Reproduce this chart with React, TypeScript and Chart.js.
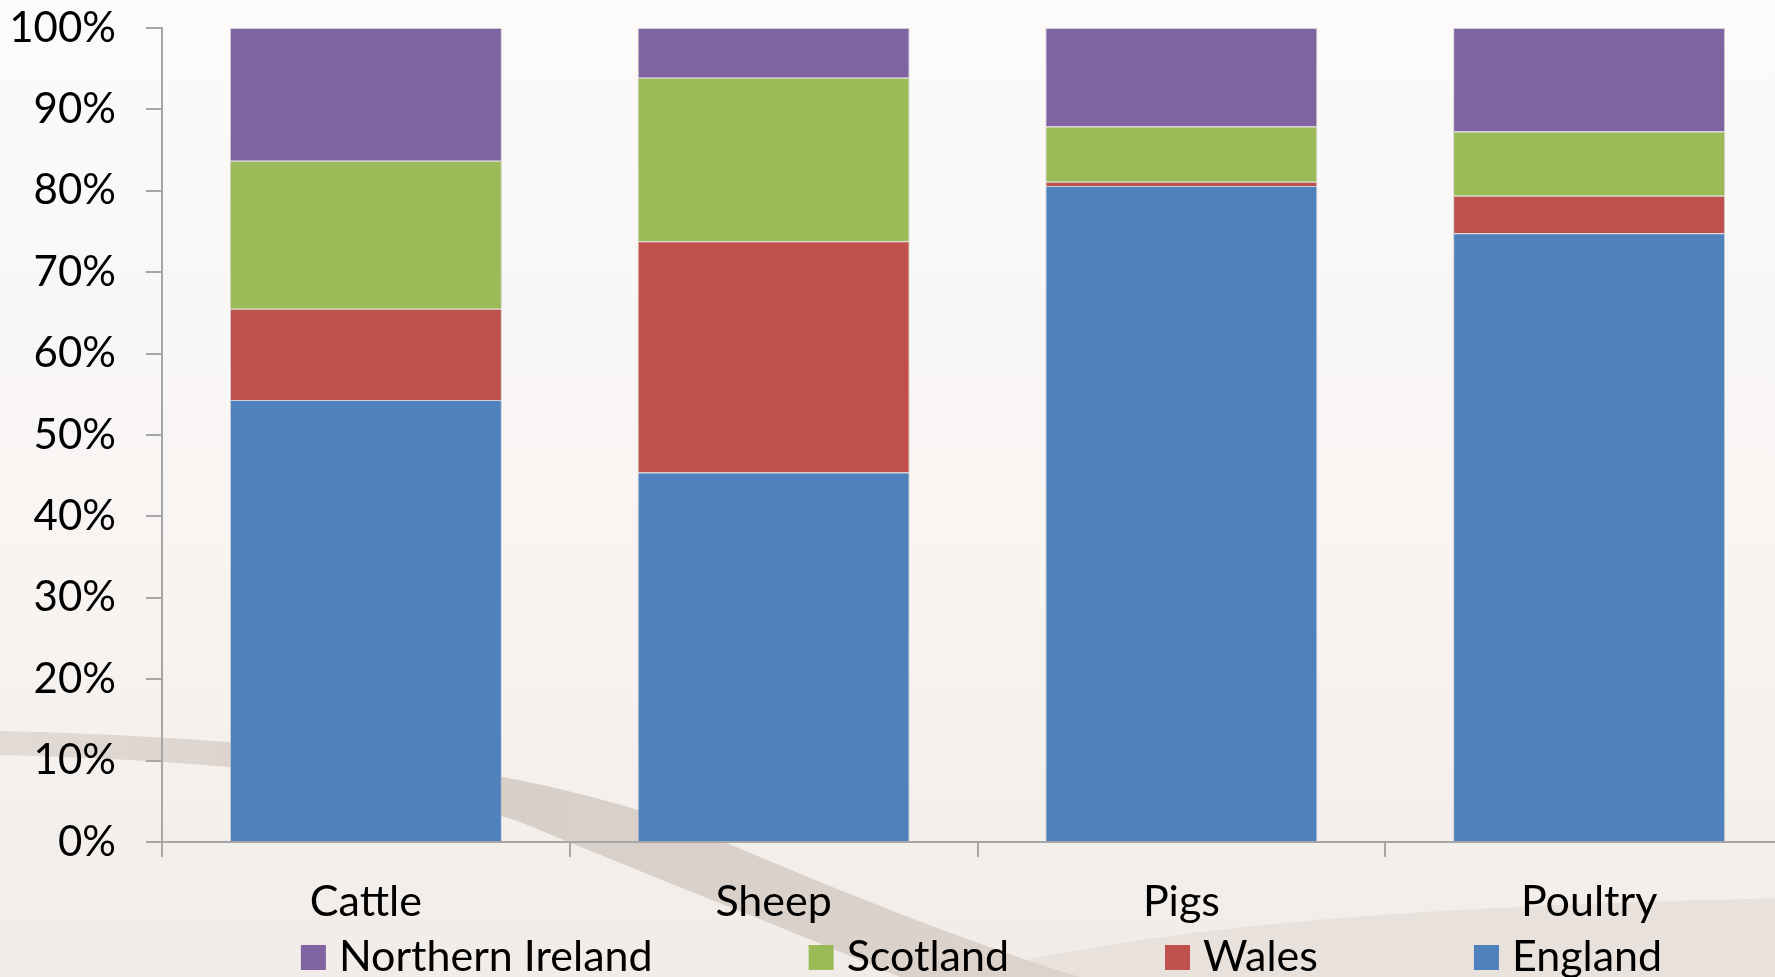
import React, { useEffect, useRef } from "react";
import { Chart, registerables } from "chart.js";

Chart.register(...registerables);

const categories = ["Cattle", "Sheep", "Pigs", "Poultry"];
const seriesNames = ["England", "Wales", "Scotland", "Northern Ireland"];
const england = [54.3, 45.4, 80.6, 74.8];
const wales = [11.2, 28.4, 0.5, 4.6];
const scotland = [18.2, 20.1, 6.8, 7.9];
const northernIreland = [16.3, 6.1, 12.1, 12.7];
const seriesColors = ["#4F81BD", "#C0504D", "#9BBB59", "#8064A2"];
const yTickLabels = ["0%", "10%", "20%", "30%", "40%", "50%", "60%", "70%", "80%", "90%", "100%"];

const FONT = "Lato, 'Open Sans', sans-serif";
const X_FONT_SIZE = 43;
const Y_FONT_SIZE = 42;
const LEGEND_FONT_SIZE = 43;

const backgroundPlugin = {
  id: "slideBackground",
  beforeDraw(chart: any) {
    const { ctx, width, height } = chart;
    ctx.save();
    const g = ctx.createLinearGradient(0, 0, 0, height);
    g.addColorStop(0, "#fcfbfa");
    g.addColorStop(0.6, "#f7f4f2");
    g.addColorStop(1, "#f1ece8");
    ctx.fillStyle = g;
    ctx.fillRect(0, 0, width, height);

    // pale beige region bottom right
    ctx.fillStyle = "#e9e2dc";
    ctx.beginPath();
    ctx.moveTo(960, height);
    ctx.bezierCurveTo(1120, 930, 1400, 905, width, 898);
    ctx.lineTo(width, height);
    ctx.closePath();
    ctx.fill();

    // taupe swoosh band
    const bg = ctx.createLinearGradient(0, 0, 1100, 0);
    bg.addColorStop(0, "#e2dad4");
    bg.addColorStop(0.4, "#d8cfc8");
    bg.addColorStop(1, "#dcd3cc");
    ctx.fillStyle = bg;
    ctx.beginPath();
    ctx.moveTo(0, 731);
    ctx.bezierCurveTo(300, 738, 560, 770, 720, 840);
    ctx.bezierCurveTo(860, 900, 990, 950, 1080, height);
    ctx.lineTo(900, height);
    ctx.bezierCurveTo(790, 930, 660, 880, 520, 822);
    ctx.bezierCurveTo(380, 775, 200, 760, 0, 755);
    ctx.closePath();
    ctx.fill();
    ctx.restore();
  },
};

const legendPlugin = {
  id: "bottomLegend",
  afterDraw(chart: any) {
    const { ctx, chartArea } = chart;
    const items = chart.data.datasets
      .map((d: any) => ({ label: d.label as string, color: d.backgroundColor as string }))
      .reverse();
    ctx.save();
    ctx.font = `${LEGEND_FONT_SIZE}px ${FONT}`;
    const box = 25;
    const gap = 13;
    const spacing = 156;
    const widths = items.map((it: any) => box + gap + ctx.measureText(it.label).width);
    const total = widths.reduce((a: number, b: number) => a + b, 0) + spacing * (items.length - 1);
    const center = (chartArea.left + chartArea.right) / 2 + 4;
    let x = center - total / 2;
    const baseline = 971;
    items.forEach((it: any, i: number) => {
      ctx.fillStyle = it.color;
      ctx.fillRect(x, baseline - box - 1, box, box);
      ctx.fillStyle = "#000000";
      ctx.textAlign = "left";
      ctx.textBaseline = "alphabetic";
      ctx.fillText(it.label, x + box + gap, baseline);
      x += widths[i] + spacing;
    });
    ctx.restore();
  },
};

export default function App() {
  const canvasRef = useRef<HTMLCanvasElement | null>(null);

  useEffect(() => {
    if (!canvasRef.current) return;
    const seriesValues = [england, wales, scotland, northernIreland];
    const chart = new Chart(canvasRef.current, {
      type: "bar",
      data: {
        labels: categories,
        datasets: seriesNames.map((name, i) => ({
          label: name,
          data: seriesValues[i],
          backgroundColor: seriesColors[i],
          borderColor: "rgba(190,190,190,0.7)",
          borderWidth: 1,
          categoryPercentage: 1,
          barPercentage: 0.667,
        })),
      },
      options: {
        animation: false,
        responsive: true,
        maintainAspectRatio: false,
        layout: { padding: { top: 28, right: 7, left: 0, bottom: 0 }, autoPadding: false },
        plugins: {
          legend: { display: false },
          tooltip: { enabled: false },
        },
        scales: {
          x: {
            stacked: true,
            grid: {
              display: true,
              drawOnChartArea: false,
              drawTicks: true,
              tickLength: 15,
              color: "#a6a6a6",
              lineWidth: 2,
              offset: true,
            },
            border: { display: true, color: "#a6a6a6", width: 2 },
            ticks: {
              color: "#000000",
              font: { family: FONT, size: X_FONT_SIZE },
              padding: 19,
              maxRotation: 0,
            },
            afterFit: (s: any) => {
              s.height = 135;
              s.paddingLeft = 0;
              s.paddingRight = 0;
            },
          },
          y: {
            stacked: true,
            min: 0,
            max: 100,
            grid: {
              display: true,
              drawOnChartArea: false,
              drawTicks: true,
              tickLength: 16,
              color: "#a6a6a6",
              lineWidth: 2,
            },
            border: { display: true, color: "#a6a6a6", width: 2 },
            ticks: {
              stepSize: 10,
              color: "#000000",
              font: { family: FONT, size: Y_FONT_SIZE },
              padding: 30,
              callback: (_v: any, i: number) => yTickLabels[i],
            },
            afterFit: (s: any) => {
              s.width = 162;
              s.paddingTop = 0;
              s.paddingBottom = 0;
            },
          },
        },
      },
      plugins: [backgroundPlugin, legendPlugin],
    });
    return () => chart.destroy();
  }, []);

  return (
    <div
      style={{
        position: "fixed",
        left: 0,
        top: 0,
        width: 1775,
        height: 977,
        overflow: "hidden",
        background: "#f7f4f2",
      }}
    >
      <div style={{ position: "relative", width: 1800, height: 977 }}>
        <canvas ref={canvasRef} />
      </div>
    </div>
  );
}
